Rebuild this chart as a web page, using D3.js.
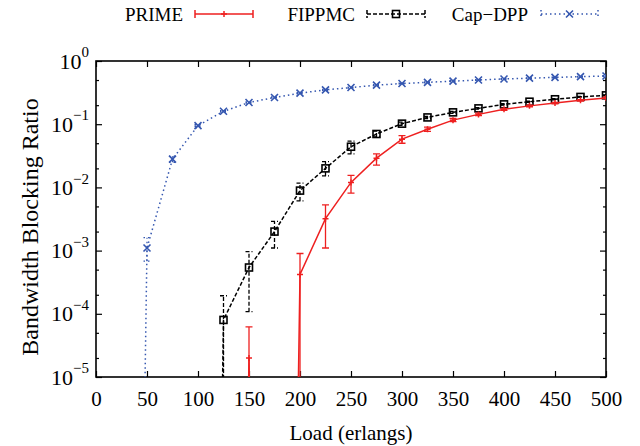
<!DOCTYPE html>
<html>
<head>
<meta charset="utf-8">
<script src="https://cdn.jsdelivr.net/npm/d3@7"></script>
<style>
  html, body { margin: 0; padding: 0; background: #fff; }
  svg { display: block; }
  text { font-family: "Liberation Serif", "Times New Roman", serif; fill: #000; }
</style>
</head>
<body>
<svg id="chart" width="640" height="446"></svg>
<script>
// ---------------- data ----------------
const loads = [25, 50, 75, 100, 125, 150, 175, 200, 225, 250, 275, 300, 325, 350, 375, 400, 425, 450, 475, 500];

const prime   = [0, 0, 0, 0, 0, 2e-5, 0, 4.2e-4, 3.2e-3, 0.012, 0.029, 0.058, 0.083, 0.116, 0.143, 0.172, 0.195, 0.216, 0.239, 0.26];
const primeLo = [0, 0, 0, 0, 0, 0, 0, 0, 1.1e-3, 0.0081, 0.0225, 0.050, 0.077, 0.110, 0.137, 0.166, 0.189, 0.210, 0.233, 0.253];
const primeHi = [0, 0, 0, 0, 0, 6.2e-5, 0, 9e-4, 5.3e-3, 0.0155, 0.034, 0.066, 0.090, 0.123, 0.150, 0.178, 0.201, 0.222, 0.245, 0.267];

const fippmc   = [0, 0, 0, 0, 8e-5, 5.4e-4, 2.0e-3, 8.9e-3, 0.020, 0.044, 0.070, 0.102, 0.128, 0.154, 0.178, 0.206, 0.227, 0.248, 0.27, 0.286];
const fippmcLo = [0, 0, 0, 0, 0, 1.08e-4, 1.1e-3, 6.1e-3, 0.0152, 0.034, 0.063, 0.096, 0.123, 0.149, 0.173, 0.201, 0.222, 0.243, 0.265, 0.281];
const fippmcHi = [0, 0, 0, 0, 1.93e-4, 9.6e-4, 2.9e-3, 0.0117, 0.0255, 0.054, 0.078, 0.108, 0.133, 0.159, 0.183, 0.211, 0.232, 0.253, 0.275, 0.291];

const capdpp   = [0, 1.1e-3, 0.028, 0.095, 0.16, 0.22, 0.265, 0.31, 0.35, 0.38, 0.415, 0.44, 0.46, 0.48, 0.50, 0.52, 0.535, 0.55, 0.565, 0.58];
const capdppLo = [0, 6.8e-4, 0.025, 0.092, 0.156, 0.215, 0.26, 0.304, 0.344, 0.374, 0.408, 0.433, 0.453, 0.473, 0.493, 0.513, 0.528, 0.543, 0.558, 0.572];
const capdppHi = [0, 1.6e-3, 0.031, 0.098, 0.164, 0.225, 0.27, 0.316, 0.356, 0.386, 0.422, 0.447, 0.467, 0.487, 0.507, 0.527, 0.542, 0.557, 0.572, 0.588];

const seriesNames = ["PRIME", "FIPPMC", "Cap\u2212DPP"];
const xTicks = [0, 50, 100, 150, 200, 250, 300, 350, 400, 450, 500];
const yExponents = [0, -1, -2, -3, -4, -5];
const xLabel = "Load (erlangs)";
const yLabel = "Bandwidth Blocking Ratio";

// ---------------- layout ----------------
const svg = d3.select("#chart");
const L = 96, R = 606, T = 61, B = 377;
const x = d3.scaleLinear().domain([0, 500]).range([L, R]);
const y = d3.scaleLog().domain([1e-5, 1]).range([B, T]);
const FLOOR = 1e-30;
const yv = v => y(Math.max(v, FLOOR));

svg.append("defs").append("clipPath").attr("id", "plotclip")
  .append("rect").attr("x", L).attr("y", T).attr("width", R - L).attr("height", B - T);

// ---------------- axes ----------------
const yMajor = yExponents.map(e => Math.pow(10, e));
const yMinor = [];
yExponents.forEach(e => { if (e < 0) [2, 5].forEach(m => yMinor.push(m * Math.pow(10, e))); });

const axFont = 21;
// bottom
const gx = svg.append("g").attr("transform", `translate(0,${B})`)
  .call(d3.axisBottom(x).tickValues(xTicks).tickSizeInner(-6).tickSizeOuter(0).tickPadding(14).tickFormat(d3.format("d")));
// top
svg.append("g").attr("transform", `translate(0,${T})`)
  .call(d3.axisTop(x).tickValues(xTicks).tickSizeInner(-6).tickSizeOuter(0).tickFormat(""));
// left major
const gy = svg.append("g").attr("transform", `translate(${L},0)`)
  .call(d3.axisLeft(y).tickValues(yMajor).tickSizeInner(-6).tickSizeOuter(0).tickPadding(7).tickFormat(() => ""));
svg.append("g").attr("transform", `translate(${L},0)`)
  .call(d3.axisLeft(y).tickValues(yMinor).tickSizeInner(-3).tickSizeOuter(0).tickFormat(""));
// right
svg.append("g").attr("transform", `translate(${R},0)`)
  .call(d3.axisRight(y).tickValues(yMajor).tickSizeInner(-6).tickSizeOuter(0).tickFormat(""));
svg.append("g").attr("transform", `translate(${R},0)`)
  .call(d3.axisRight(y).tickValues(yMinor).tickSizeInner(-3).tickSizeOuter(0).tickFormat(""));

svg.selectAll(".domain").remove();
svg.selectAll(".tick line").attr("stroke", "#000").attr("stroke-width", 1.2);
gx.selectAll(".tick text").attr("font-size", axFont).attr("font-family", "Liberation Serif");

// y labels with superscripts
gy.selectAll(".tick text").each(function (d) {
  const t = d3.select(this).attr("font-size", 22).attr("font-family", "Liberation Serif").attr("text-anchor", "end").attr("dy", "0.32em");
  t.text(null);
  t.append("tspan").text("10");
  t.append("tspan").attr("font-size", 15).attr("dy", "-0.75em")
    .text(String(Math.round(Math.log10(d))).replace("-", "\u2212"));
});

// frame
svg.append("rect").attr("x", L).attr("y", T).attr("width", R - L).attr("height", B - T)
  .attr("fill", "none").attr("stroke", "#000").attr("stroke-width", 1.6);

// axis titles
svg.append("text").attr("x", (L + R) / 2).attr("y", 440).attr("text-anchor", "middle")
  .attr("font-size", axFont).text(xLabel);
svg.append("text").attr("transform", `translate(38,${(T + B) / 2 + 8}) rotate(-90)`).attr("text-anchor", "middle")
  .attr("font-size", 24).text(yLabel);

// ---------------- series ----------------
const series = [
  { name: seriesNames[0], v: prime, lo: primeLo, hi: primeHi, color: "#ee2020", dash: null, marker: "plus", width: 1.5 },
  { name: seriesNames[1], v: fippmc, lo: fippmcLo, hi: fippmcHi, color: "#000000", dash: "4,2", marker: "square", width: 1.5 },
  { name: seriesNames[2], v: capdpp, lo: capdppLo, hi: capdppHi, color: "#3557b0", dash: "1.5,3", marker: "cross", width: 1.5 }
];

const plot = svg.append("g").attr("clip-path", "url(#plotclip)");
const cap = 3.5;

function drawMarker(g, kind, cx, cy, color) {
  if (kind === "plus") {
    g.append("path").attr("d", `M${cx - 3},${cy}H${cx + 3}M${cx},${cy - 3}V${cy + 3}`)
      .attr("stroke", color).attr("stroke-width", 1.5).attr("fill", "none");
  } else if (kind === "square") {
    g.append("rect").attr("x", cx - 3.5).attr("y", cy - 3.5).attr("width", 7).attr("height", 7)
      .attr("fill", "none").attr("stroke", color).attr("stroke-width", 1.6);
  } else if (kind === "cross") {
    g.append("path").attr("d", `M${cx - 3.5},${cy - 3.5}L${cx + 3.5},${cy + 3.5}M${cx - 3.5},${cy + 3.5}L${cx + 3.5},${cy - 3.5}`)
      .attr("stroke", color).attr("stroke-width", 1.6).attr("fill", "none");
  }
}

// draw in reverse so PRIME on top
series.slice().reverse().forEach(s => {
  const g = plot.append("g");
  const pts = loads.map((l, i) => ({ l, v: s.v[i], lo: s.lo[i], hi: s.hi[i] }));
  const line = d3.line().x(d => x(d.l)).y(d => yv(d.v));
  g.append("path").datum(pts).attr("d", line).attr("fill", "none")
    .attr("stroke", s.color).attr("stroke-width", s.width).attr("stroke-dasharray", s.dash);
  pts.filter(d => d.v > 0).forEach(d => {
    const cx = x(d.l), y1 = yv(d.lo), y2 = yv(d.hi);
    g.append("path").attr("d", `M${cx},${y1}V${y2}M${cx - cap},${y1}H${cx + cap}M${cx - cap},${y2}H${cx + cap}`)
      .attr("fill", "none").attr("stroke", s.color).attr("stroke-width", 1.3).attr("stroke-dasharray", s.dash);
    drawMarker(g, s.marker, cx, yv(d.v), s.color);
  });
});

// ---------------- legend ----------------
const legendItems = [
  { s: series[0], textRight: 183, x1: 195, x2: 253 },
  { s: series[1], textRight: 355, x1: 367, x2: 425 },
  { s: series[2], textRight: 528, x1: 541, x2: 598 }
];
const ly = 14;
legendItems.forEach(it => {
  const g = svg.append("g");
  g.append("text").attr("x", it.textRight).attr("y", ly).attr("dy", "0.35em").attr("text-anchor", "end")
    .attr("font-size", 19).text(it.s.name);
  g.append("path").attr("d", `M${it.x1},${ly}H${it.x2}M${it.x1},${ly - 4}V${ly + 4}M${it.x2},${ly - 4}V${ly + 4}`)
    .attr("fill", "none").attr("stroke", it.s.color).attr("stroke-width", 1.5).attr("stroke-dasharray", it.s.dash);
  drawMarker(g, it.s.marker, (it.x1 + it.x2) / 2, ly, it.s.color);
});
</script>
</body>
</html>
